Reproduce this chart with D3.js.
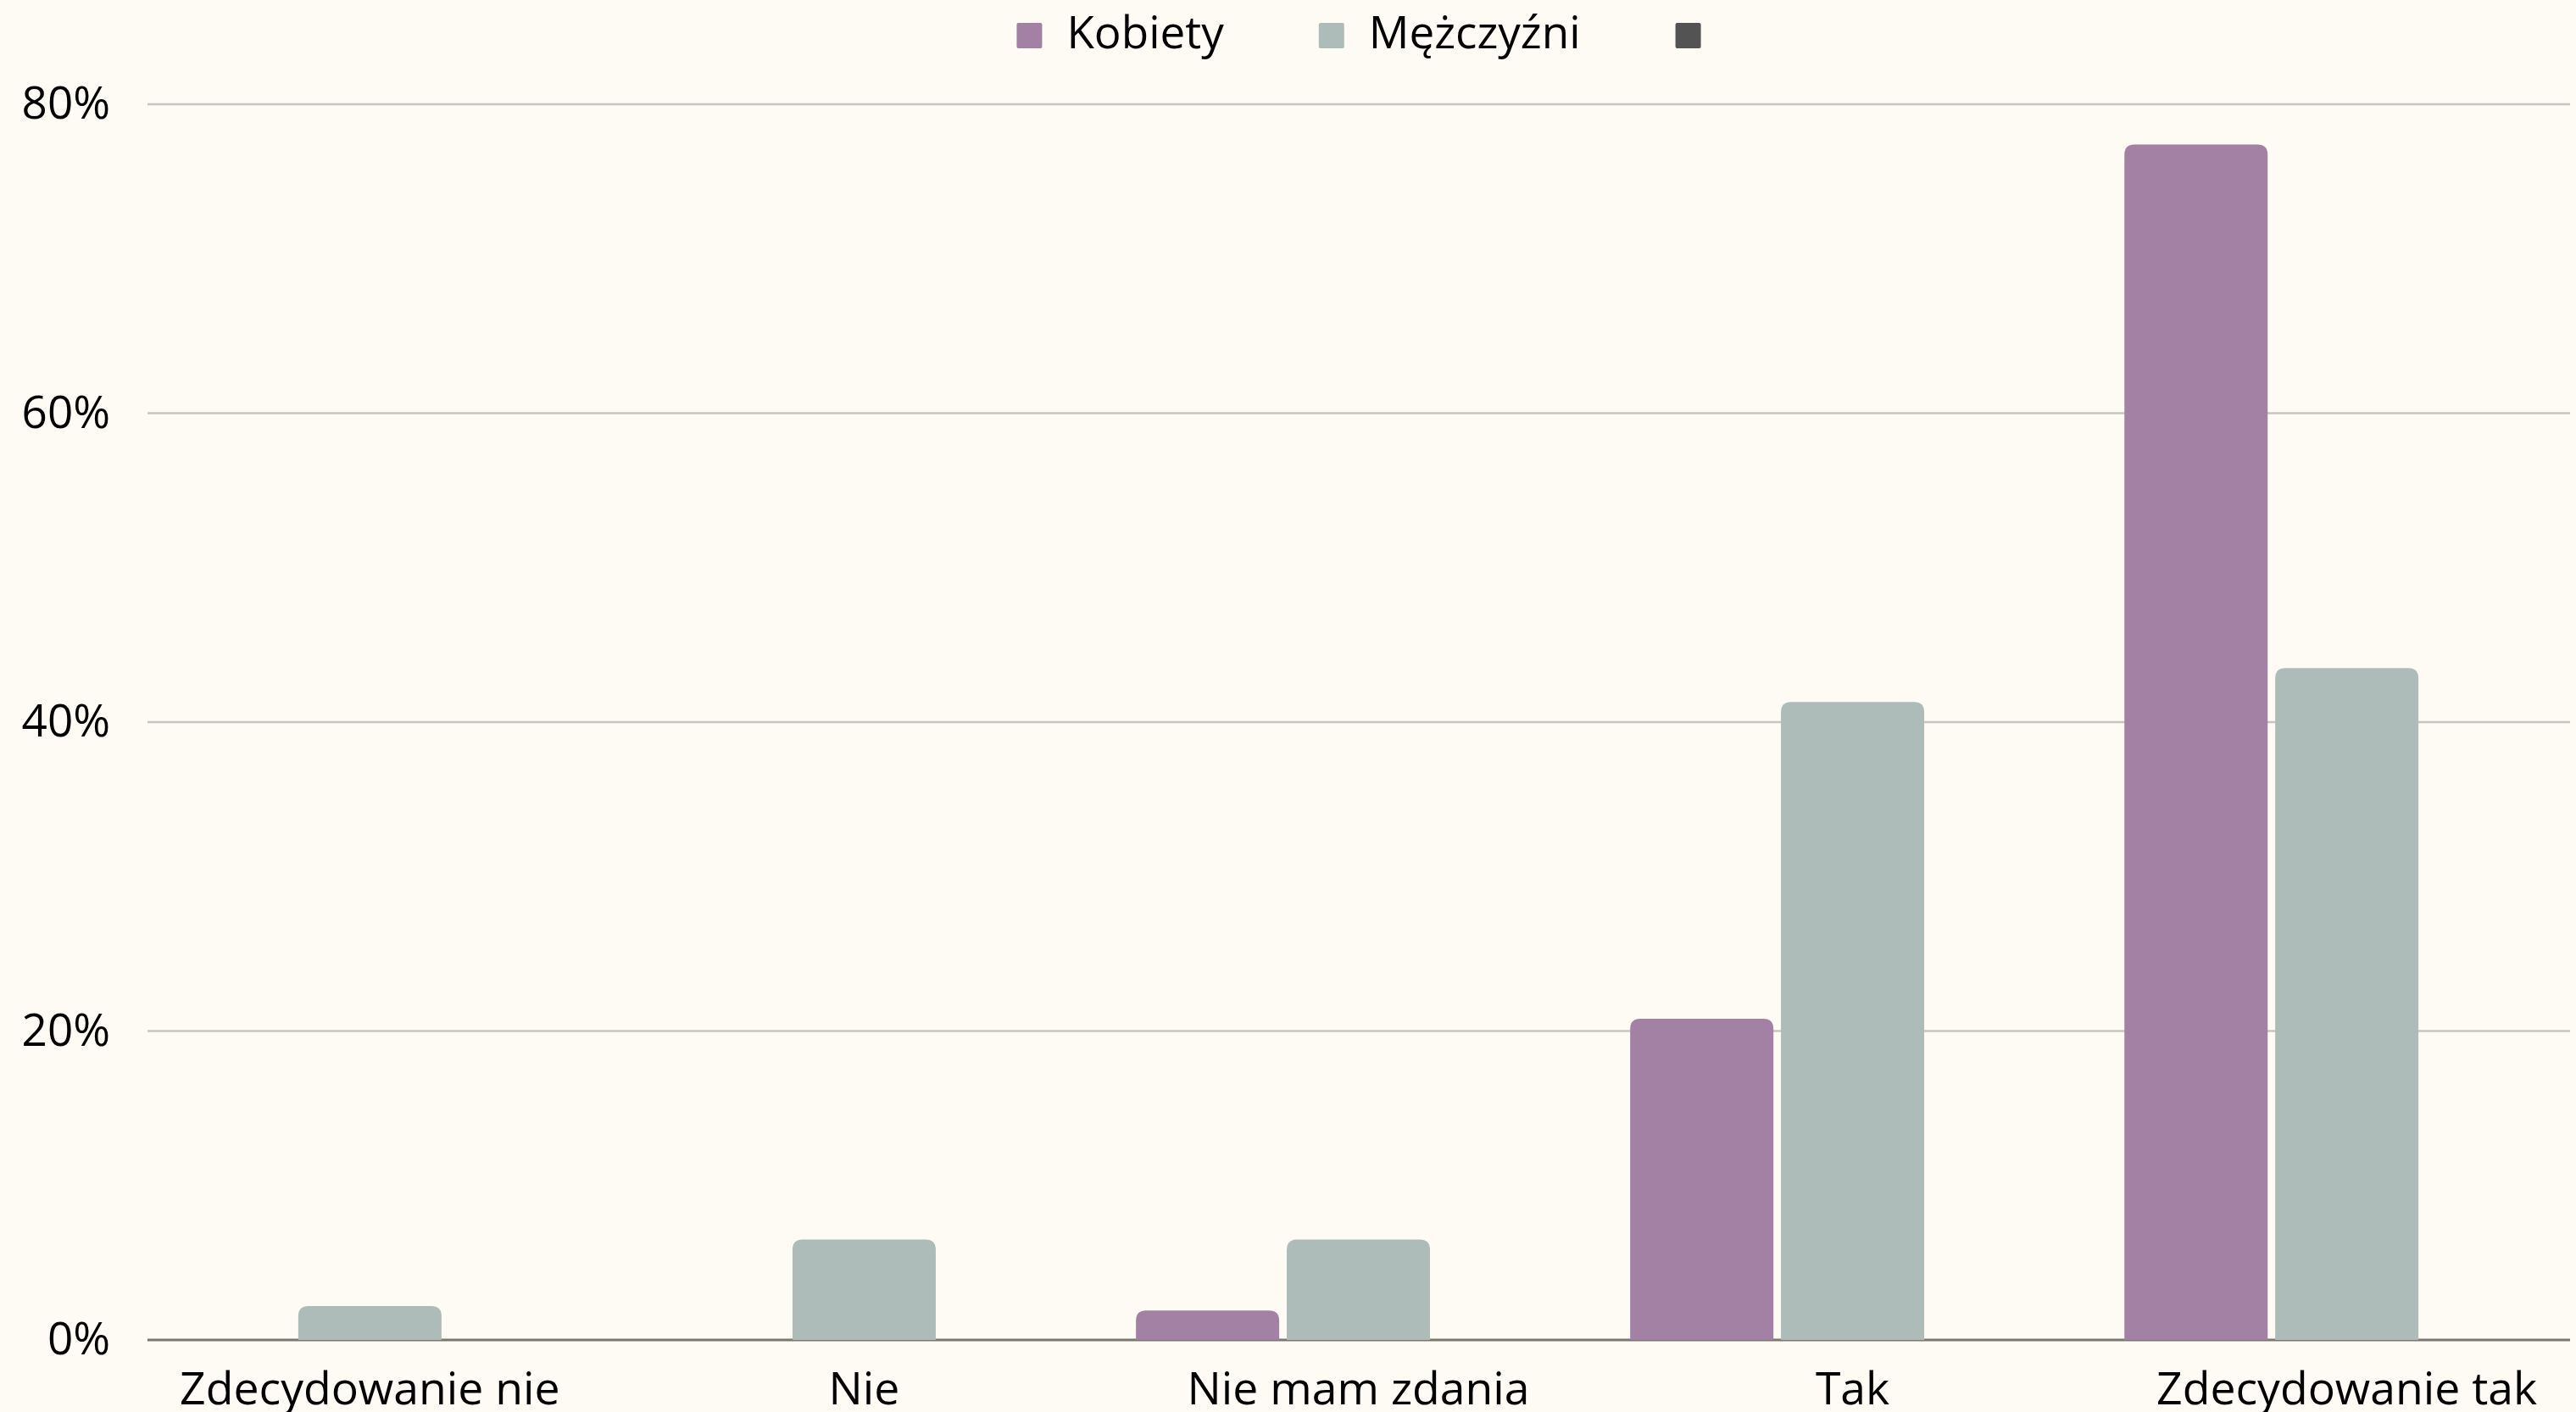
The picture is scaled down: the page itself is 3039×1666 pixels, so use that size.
<!DOCTYPE html>
<html>
<head>
<meta charset="utf-8">
<script src="https://cdn.jsdelivr.net/npm/d3@7"></script>
<style>
  html, body { margin: 0; padding: 0; background: #fefbf4; }
  svg { display: block; font-family: "Open Sans", sans-serif; }
</style>
</head>
<body>
<div id="chart"></div>
<script>
// answer categories
var categories = ["Zdecydowanie nie", "Nie", "Nie mam zdania", "Tak", "Zdecydowanie tak"];
// series names (third one is empty in the original)
var seriesNames = ["Kobiety", "Mężczyźni", ""];
// percentages per category
var kobiety = [0, 0, 1.9, 20.8, 77.4];
var mezczyzni = [2.2, 6.5, 6.5, 41.3, 43.5];
var trzecia = [0, 0, 0, 0, 0];
var yTicks = [0, 20, 40, 60, 80];

var colors = ["#a381a4", "#adbcb9", "#535353"];

var width = 3039, height = 1666;
var margin = { top: 123, right: 7, bottom: 85, left: 174 };

var svg = d3.select("#chart").append("svg")
  .attr("width", width)
  .attr("height", height);

svg.append("rect").attr("width", width).attr("height", height).attr("fill", "#fefbf4");

var x0 = d3.scaleBand()
  .domain(categories)
  .range([margin.left, width - margin.right - 1])
  .paddingInner(0.1)
  .paddingOuter(0);

var x1 = d3.scaleBand()
  .domain(d3.range(seriesNames.length))
  .range([0, x0.bandwidth()])
  .paddingInner(0.05);

// 80% sits at the top gridline
var y = d3.scaleLinear()
  .domain([0, 80])
  .range([height - margin.bottom, margin.top]);

// gridlines
var grid = svg.append("g");
grid.selectAll("line")
  .data(yTicks)
  .enter()
  .append("line")
  .attr("x1", margin.left)
  .attr("x2", width - margin.right)
  .attr("y1", function (d) { return y(d); })
  .attr("y2", function (d) { return y(d); })
  .attr("stroke", function (d) { return d === 0 ? "#7a7670" : "#c8c4bf"; })
  .attr("stroke-width", function (d) { return d === 0 ? 3 : 2.5; });

// y axis labels
var yAxis = d3.axisLeft(y)
  .tickValues(yTicks)
  .tickFormat(function (d) { return d + "%"; })
  .tickSize(0)
  .tickPadding(44);
var gy = svg.append("g")
  .attr("transform", "translate(" + margin.left + ",0)")
  .call(yAxis);
gy.select(".domain").remove();
gy.selectAll("text")
  .attr("font-family", "Open Sans, sans-serif")
  .attr("font-size", 53)
  .attr("fill", "#000");

// bars, rounded top corners
function barPath(x, yTop, w, yBase, r) {
  var h = yBase - yTop;
  if (h <= 0) return "";
  r = Math.min(r, h, w / 2);
  return "M" + x + "," + yBase +
    "V" + (yTop + r) +
    "Q" + x + "," + yTop + " " + (x + r) + "," + yTop +
    "H" + (x + w - r) +
    "Q" + (x + w) + "," + yTop + " " + (x + w) + "," + (yTop + r) +
    "V" + yBase + "Z";
}

var seriesValues = [kobiety, mezczyzni, trzecia];
var data = [];
categories.forEach(function (c, i) {
  seriesValues.forEach(function (vals, s) {
    data.push({ cat: c, s: s, value: vals[i] });
  });
});

svg.append("g")
  .selectAll("path")
  .data(data)
  .enter()
  .append("path")
  .attr("d", function (d) {
    return barPath(x0(d.cat) + x1(d.s), y(d.value), x1.bandwidth(), y(0), 12);
  })
  .attr("fill", function (d) { return colors[d.s]; });

// x axis labels
var xAxis = d3.axisBottom(x0).tickSize(0).tickPadding(38);
var gx = svg.append("g")
  .attr("transform", "translate(0," + y(0) + ")")
  .call(xAxis);
gx.select(".domain").remove();
gx.selectAll("text")
  .attr("font-family", "Open Sans, sans-serif")
  .attr("font-size", 53.5)
  .attr("fill", "#000");

// legend
var legend = svg.append("g");
var items = legend.selectAll("g")
  .data(seriesNames)
  .enter()
  .append("g");
items.append("rect")
  .attr("width", 30)
  .attr("height", 30)
  .attr("y", 27)
  .attr("rx", 2)
  .attr("fill", function (d, i) { return colors[i]; });
items.append("text")
  .attr("x", 59)
  .attr("y", 57)
  .attr("font-size", 53)
  .attr("fill", "#000")
  .text(function (d) { return d; });

var offset = 0;
items.each(function (d) {
  var w = this.querySelector("text").getComputedTextLength();
  d3.select(this).attr("data-x", offset);
  offset += 30 + (w > 0 ? 29 + w : 0) + 112;
});
var total = offset - 112;
var startX = (margin.left + width - margin.right) / 2 - total / 2;
items.attr("transform", function () {
  return "translate(" + (startX + (+this.getAttribute("data-x"))) + ",0)";
});
</script>
</body>
</html>
